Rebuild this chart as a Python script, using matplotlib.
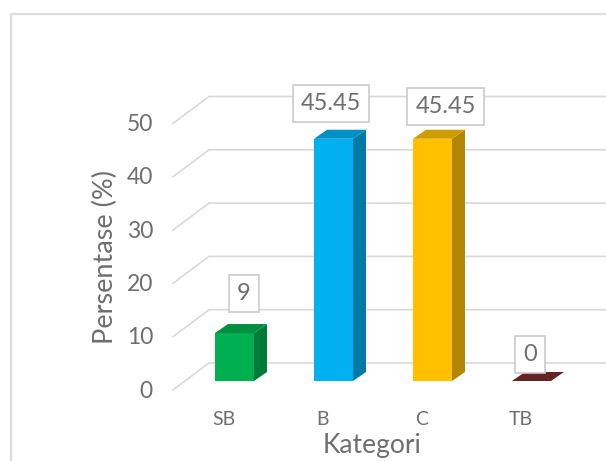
import matplotlib
matplotlib.use("Agg")
import matplotlib.pyplot as plt
from matplotlib.patches import Polygon

plt.rcParams['font.family'] = ['Lato', 'DejaVu Sans']

categories = ["SB", "B", "C", "TB"]
values = [9, 45.45, 45.45, 0]
value_labels = ["9", "45.45", "45.45", "0"]
yticks = [0, 10, 20, 30, 40, 50]
front_colors = ["#00B050", "#00B0F0", "#FFC000", "#7B2C2C"]
side_colors = ["#007A38", "#007BA8", "#B28600", "#561F1F"]
top_colors = ["#008F41", "#008FC3", "#CF9C00", "#642424"]
ylabel = "Persentase (%)"
xlabel = "Kategori"

W, H = 606, 461
X0, XS = 234.5, 99.0      # pixel of category 0, pixels per category
Y0, YS = 381.0, 5.33      # pixel of value 0, pixels per unit

fig = plt.figure(figsize=(W / 100, H / 100), dpi=100, facecolor="white")
ax = fig.add_axes([0, 0, 1, 1])
ax.set_xlim((0 - X0) / XS, (W - X0) / XS)
ax.set_ylim((Y0 - H) / YS, (Y0 - 0) / YS)
ax.axis("off")

BW = 39 / XS
BDX, BDY = 13 / XS, 9 / YS
GDX_F, GDX_B = (173 - X0) / XS, (209 - X0) / XS
GY_F, GY_B = (381 - 390) / YS, (381 - 363) / YS
grid_c = "#D9D9D9"

# chart frame
ax.plot([(11 - X0) / XS, (11 - X0) / XS, (W - X0) / XS],
        [(Y0 - H) / YS, (Y0 - 14) / YS, (Y0 - 14) / YS],
        color="#DDDDDD", lw=1.6, zorder=1, solid_joinstyle="miter")

# gridlines + tick labels
for v in yticks:
    ax.plot([GDX_F, GDX_B, (W - X0) / XS], [v + GY_F, v + GY_B, v + GY_B],
            color=grid_c, lw=1.2, zorder=1)
    ax.annotate(str(v), (GDX_F, v + GY_F), xytext=(-20 * 0.72, -1 * 0.72),
                textcoords="offset points", ha="right", va="center",
                fontsize=16.5, color="#6E6E6E")

# bars
for i, (v, fc, sc, tc) in enumerate(zip(values, front_colors, side_colors, top_colors)):
    l, r = i - BW / 2, i + BW / 2
    ax.bar(i, v, width=BW, color=fc, zorder=3, linewidth=0)
    ax.add_patch(Polygon([(r, 0), (r + BDX, BDY), (r + BDX, v + BDY), (r, v)],
                         closed=True, fc=sc, ec="none", zorder=3))
    ax.add_patch(Polygon([(l, v), (l + BDX, v + BDY), (r + BDX, v + BDY), (r, v)],
                         closed=True, fc=tc, ec="none", zorder=3))

# data labels (offsets in px from the bar top centre)
offsets = [(9.5, 40), (-2.5, 35.5), (13, 32.5), (-1.5, 26.5)]
for i, (v, t, (dx, dy)) in enumerate(zip(values, value_labels, offsets)):
    ax.annotate(t, (i, v), xytext=(dx * 0.72, dy * 0.72), textcoords="offset points",
                ha="center", va="center", fontsize=17, color="#6E6E6E", zorder=5,
                bbox=dict(boxstyle="square,pad=0.34", fc="white", ec="#C9C9CF", lw=1.2))

# category labels
for i, c in enumerate(categories):
    ax.annotate(c, (i, 0), xytext=(-11 * 0.72, -38 * 0.72),
                textcoords="offset points", ha="center", va="center",
                fontsize=14, color="#6E6E6E")

ax.text((372 - X0) / XS, (Y0 - 445) / YS, xlabel, ha="center", va="center",
        fontsize=19, color="#6E6E6E")
ax.text((105 - X0) / XS, (Y0 - 257) / YS, ylabel, ha="center", va="center",
        rotation=90, fontsize=19.5, color="#6E6E6E")

fig.savefig("out.png", dpi=100, facecolor="white")
